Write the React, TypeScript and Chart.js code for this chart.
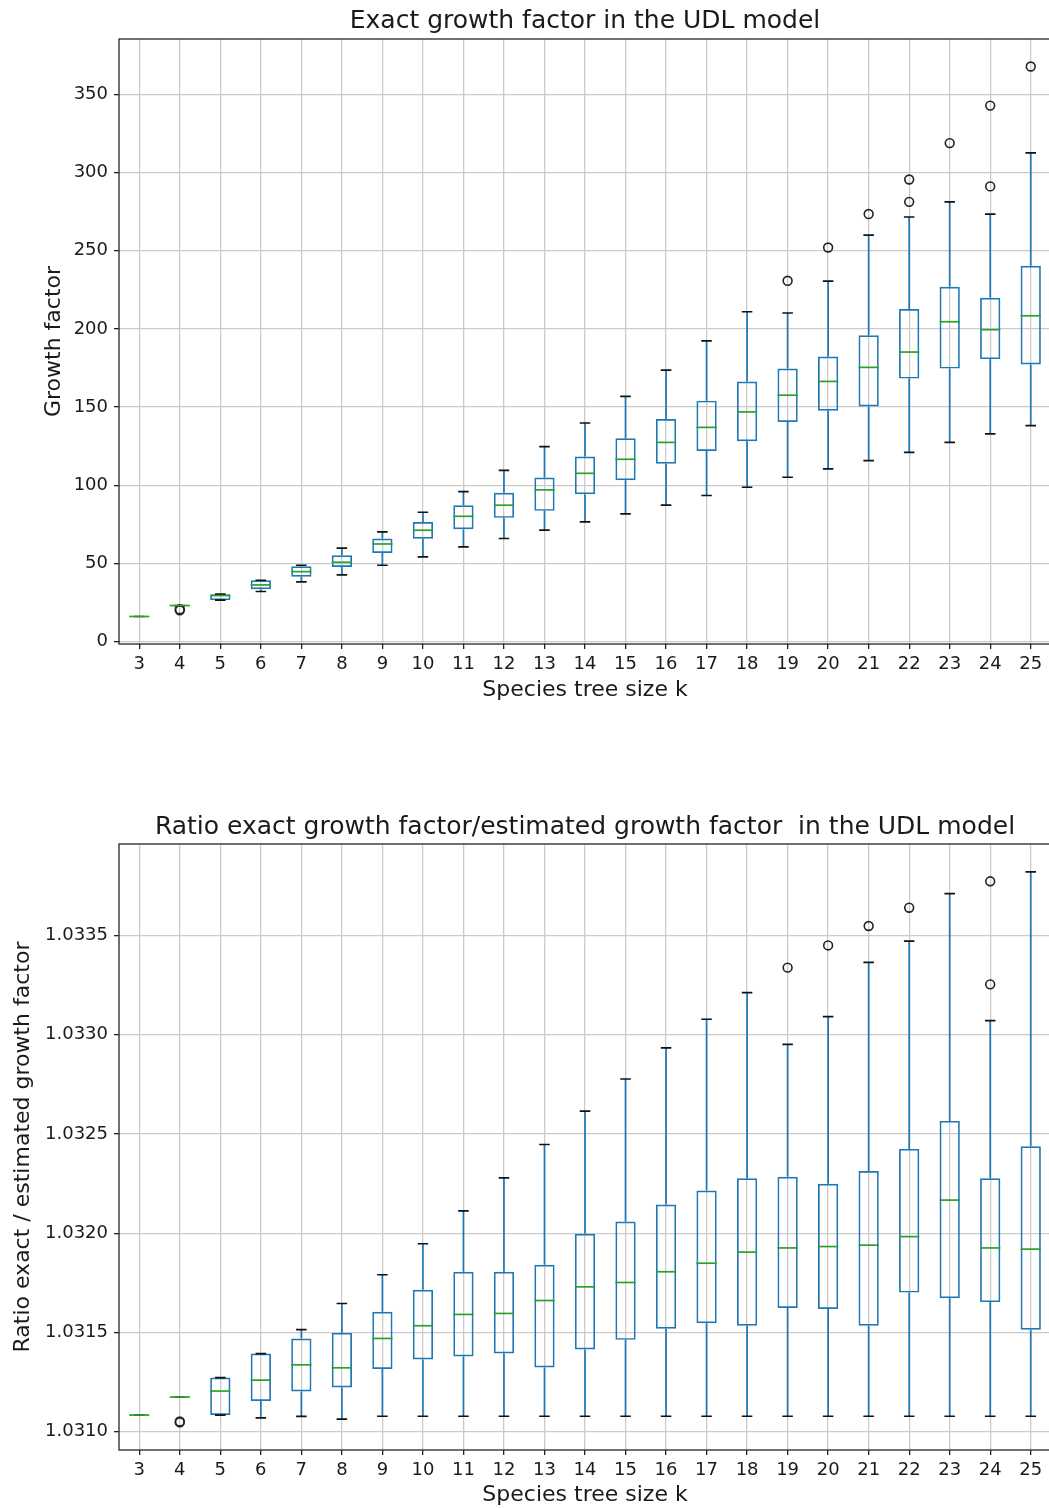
import React, { useEffect, useRef } from "react";
import { Chart, registerables } from "chart.js";

Chart.register(...registerables);

// ---------------- data ----------------
const categories = ["3","4","5","6","7","8","9","10","11","12","13","14","15","16","17","18","19","20","21","22","23","24","25"];

// Exact growth factor
const growthLow = [16, 23, 26.5, 32.0, 38.2, 42.6, 48.8, 54.2, 60.5, 65.9, 71.2, 76.5, 81.6, 87.2, 93.4, 98.7, 105.1, 110.4, 115.7, 121.0, 127.4, 132.8, 138.1];
const growthQ1 = [16, 23, 26.5, 33.4, 41.5, 47.7, 56.7, 65.7, 71.8, 79.1, 83.6, 94.2, 103.2, 113.8, 121.9, 128.1, 140.5, 147.7, 150.4, 168.2, 174.6, 180.7, 177.3];
const growthMedian = [16, 23, 29.4, 36.2, 44.7, 50.7, 62.4, 71.2, 80.1, 87.2, 97.0, 107.6, 116.6, 127.4, 137.0, 146.9, 157.6, 166.4, 175.4, 185.2, 204.6, 199.5, 208.4];
const growthQ3 = [16, 23, 30.3, 39.2, 48.1, 55.2, 65.9, 76.5, 87.1, 95.1, 104.9, 118.3, 130.0, 142.4, 154.1, 166.4, 174.6, 182.4, 195.9, 212.7, 227.0, 219.9, 240.4];
const growthHigh = [16, 23, 30.3, 39.2, 48.8, 59.7, 70.1, 82.7, 95.9, 109.5, 124.7, 139.8, 156.8, 173.6, 192.4, 211.0, 210.2, 230.6, 260.0, 271.6, 281.3, 273.5, 312.7];
const growthOutlierK = ["4", "4", "19", "20", "21", "22", "22", "23", "24", "24", "25"];
const growthOutlierV = [20.0, 20.7, 230.8, 252.1, 273.5, 281.3, 295.6, 318.9, 291.2, 342.9, 367.9];
const growthTicks = [0, 50, 100, 150, 200, 250, 300, 350];

// Ratio exact / estimated growth factor
const ratioLow = [1.031084, 1.031175, 1.031084, 1.031070, 1.031077, 1.031064, 1.031078, 1.031078, 1.031078, 1.031078, 1.031078, 1.031078, 1.031078, 1.031078, 1.031078, 1.031078, 1.031078, 1.031078, 1.031078, 1.031078, 1.031078, 1.031078, 1.031078];
const ratioQ1 = [1.031084, 1.031175, 1.031084, 1.031155, 1.031203, 1.031223, 1.031316, 1.031364, 1.031379, 1.031394, 1.031324, 1.031414, 1.031463, 1.031519, 1.031547, 1.031534, 1.031624, 1.031618, 1.031534, 1.031701, 1.031673, 1.031653, 1.031514];
const ratioMedian = [1.031084, 1.031175, 1.031205, 1.031260, 1.031337, 1.031322, 1.031470, 1.031534, 1.031591, 1.031596, 1.031661, 1.031730, 1.031752, 1.031806, 1.031849, 1.031905, 1.031926, 1.031933, 1.031940, 1.031983, 1.032167, 1.031926, 1.031920];
const ratioQ3 = [1.031084, 1.031175, 1.031273, 1.031394, 1.031470, 1.031498, 1.031604, 1.031715, 1.031806, 1.031806, 1.031841, 1.031997, 1.032059, 1.032145, 1.032215, 1.032277, 1.032284, 1.032249, 1.032313, 1.032425, 1.032566, 1.032277, 1.032438];
const ratioHigh = [1.031084, 1.031175, 1.031273, 1.031394, 1.031514, 1.031646, 1.031791, 1.031947, 1.032113, 1.032279, 1.032447, 1.032615, 1.032777, 1.032934, 1.033078, 1.033212, 1.032952, 1.033091, 1.033365, 1.033472, 1.033711, 1.033071, 1.033821];
const ratioOutlierK = ["4", "4", "19", "20", "21", "22", "24", "24"];
const ratioOutlierV = [1.031047, 1.031052, 1.033338, 1.033450, 1.033548, 1.033640, 1.033254, 1.033773];
const ratioTicks = [1.031, 1.0315, 1.032, 1.0325, 1.033, 1.0335];

// ---------------- styling ----------------
const FONT = "'DejaVu Sans', sans-serif";
const TEXT = "#1a1a1a";
const BLUE = "#1f77b4";
const GREEN = "#2ca02c";
const GRID = "#cbcbcb";
const SPINE = "#262626";

type Stats = { low: number[]; q1: number[]; med: number[]; q3: number[]; high: number[] };

function boxPlugin(stats: Stats) {
  return {
    id: "boxWhiskers",
    afterDatasetsDraw(chart: any) {
      const ctx = chart.ctx;
      const xs = chart.scales.x;
      const ys = chart.scales.y;
      const meta = chart.getDatasetMeta(0);
      const catW = xs.getPixelForValue(1) - xs.getPixelForValue(0);
      ctx.save();
      for (let i = 0; i < stats.low.length; i++) {
        const x = xs.getPixelForValue(i);
        const bar = meta.data[i];
        const halfBox = bar ? bar.width / 2 : catW / 4;
        const yLo = ys.getPixelForValue(stats.low[i]);
        const yQ1 = ys.getPixelForValue(stats.q1[i]);
        const yQ3 = ys.getPixelForValue(stats.q3[i]);
        const yHi = ys.getPixelForValue(stats.high[i]);
        const yMed = ys.getPixelForValue(stats.med[i]);
        // whiskers
        ctx.strokeStyle = BLUE;
        ctx.lineWidth = 1.7;
        ctx.beginPath();
        ctx.moveTo(x, yQ1);
        ctx.lineTo(x, yLo);
        ctx.moveTo(x, yQ3);
        ctx.lineTo(x, yHi);
        ctx.stroke();
        // caps
        const halfCap = catW * 0.13;
        ctx.strokeStyle = "#111";
        ctx.beginPath();
        ctx.moveTo(x - halfCap, yLo);
        ctx.lineTo(x + halfCap, yLo);
        ctx.moveTo(x - halfCap, yHi);
        ctx.lineTo(x + halfCap, yHi);
        ctx.stroke();
        // median
        ctx.strokeStyle = GREEN;
        ctx.beginPath();
        ctx.moveTo(x - halfBox, yMed);
        ctx.lineTo(x + halfBox, yMed);
        ctx.stroke();
      }
      // frame (spines)
      const a = chart.chartArea;
      ctx.strokeStyle = SPINE;
      ctx.lineWidth = 1.3;
      ctx.strokeRect(a.left, a.top, a.right - a.left, a.bottom - a.top);
      ctx.restore();
    },
  };
}

type ChartSpec = {
  title: string;
  titlePad: { top: number; bottom: number };
  yTitle: string;
  yTitlePad: number;
  xTitlePadBottom: number;
  xAxisHeight: number;
  stats: Stats;
  outK: string[];
  outV: number[];
  ticks: number[];
  min: number;
  max: number;
  fmt: (v: number) => string;
};

function buildConfig(s: ChartSpec): any {
  return {
    type: "bar",
    data: {
      labels: categories,
      datasets: [
        {
          type: "bar",
          data: s.stats.q1.map((v, i) => [v, s.stats.q3[i]]),
          backgroundColor: "rgba(0,0,0,0)",
          borderColor: BLUE,
          borderWidth: 1.7,
          borderSkipped: false,
          barPercentage: 0.5,
          categoryPercentage: 1,
          order: 2,
        },
        {
          type: "scatter",
          data: s.outK.map((k, i) => ({ x: k, y: s.outV[i] })),
          pointRadius: 4.4,
          pointBorderWidth: 1.6,
          pointBorderColor: "#222",
          pointBackgroundColor: "rgba(0,0,0,0)",
          pointStyle: "circle",
          showLine: false,
          order: 1,
        },
      ],
    },
    options: {
      animation: false,
      responsive: true,
      maintainAspectRatio: false,
      layout: { autoPadding: false, padding: { left: 0, right: 1, top: 0, bottom: 0 } },
      plugins: {
        legend: { display: false },
        tooltip: { enabled: false },
        title: {
          display: true,
          text: s.title,
          fullSize: false,
          color: TEXT,
          font: { family: FONT, size: 25, weight: "normal", lineHeight: 1.2 },
          padding: s.titlePad,
        },
      },
      scales: {
        x: {
          type: "category",
          offset: true,
          border: { display: false },
          grid: {
            offset: false,
            color: GRID,
            lineWidth: 1.3,
            drawTicks: true,
            tickLength: 5,
            tickColor: "#222",
            tickWidth: 1.3,
          },
          ticks: {
            color: TEXT,
            font: { family: FONT, size: 18 },
            padding: 5,
            maxRotation: 0,
            autoSkip: false,
          },
          title: {
            display: true,
            text: "Species tree size k",
            color: TEXT,
            font: { family: FONT, size: 22, lineHeight: 1.2 },
            padding: { top: 0, bottom: s.xTitlePadBottom },
          },
          afterFit: (scale: any) => {
            scale.height = s.xAxisHeight;
            scale.paddingLeft = 0;
            scale.paddingRight = 0;
          },
        },
        y: {
          type: "linear",
          min: s.min,
          max: s.max,
          border: { display: false },
          grid: {
            color: GRID,
            lineWidth: 1.3,
            drawTicks: true,
            tickLength: 5,
            tickColor: "#222",
            tickWidth: 1.3,
          },
          afterBuildTicks: (scale: any) => {
            scale.ticks = s.ticks.map((v) => ({ value: v }));
          },
          ticks: {
            color: TEXT,
            font: { family: FONT, size: 18 },
            padding: 6,
            callback: (v: any) => s.fmt(Number(v)),
          },
          title: {
            display: true,
            text: s.yTitle,
            color: TEXT,
            font: { family: FONT, size: 22, lineHeight: 1.2 },
            padding: { top: s.yTitlePad, bottom: 0 },
          },
          afterFit: (scale: any) => {
            scale.width = 119;
            scale.paddingTop = 0;
            scale.paddingBottom = 0;
          },
        },
      },
    },
    plugins: [boxPlugin(s.stats)],
  };
}

function BoxChart({ spec, top, height }: { spec: ChartSpec; top: number; height: number }) {
  const ref = useRef<HTMLCanvasElement | null>(null);
  useEffect(() => {
    if (!ref.current) return;
    const chart = new Chart(ref.current, buildConfig(spec));
    return () => chart.destroy();
  }, []);
  return (
    <div style={{ position: "absolute", left: 0, top, width: 1052, height }}>
      <canvas ref={ref} />
    </div>
  );
}

const growthSpec: ChartSpec = {
  title: "Exact growth factor in the UDL model",
  titlePad: { top: 6, bottom: 3 },
  yTitle: "Growth factor",
  yTitlePad: 41,
  xTitlePadBottom: 17,
  xAxisHeight: 76,
  stats: { low: growthLow, q1: growthQ1, med: growthMedian, q3: growthQ3, high: growthHigh },
  outK: growthOutlierK,
  outV: growthOutlierV,
  ticks: growthTicks,
  min: -1.6,
  max: 385.5,
  fmt: (v) => String(Math.round(v)),
};

const ratioSpec: ChartSpec = {
  title: "Ratio exact growth factor/estimated growth factor  in the UDL model",
  titlePad: { top: 32, bottom: 2 },
  yTitle: "Ratio exact / estimated growth factor",
  yTitlePad: 10,
  xTitlePadBottom: 0,
  xAxisHeight: 58,
  stats: { low: ratioLow, q1: ratioQ1, med: ratioMedian, q3: ratioQ3, high: ratioHigh },
  outK: ratioOutlierK,
  outV: ratioOutlierV,
  ticks: ratioTicks,
  min: 1.030908,
  max: 1.033961,
  fmt: (v) => v.toFixed(4),
};

export default function App() {
  return (
    <div
      style={{
        position: "absolute",
        left: 0,
        top: 0,
        width: 1049,
        height: 1508,
        overflow: "hidden",
        background: "#fff",
      }}
    >
      <BoxChart spec={growthSpec} top={0} height={720} />
      <BoxChart spec={ratioSpec} top={780} height={728} />
    </div>
  );
}
